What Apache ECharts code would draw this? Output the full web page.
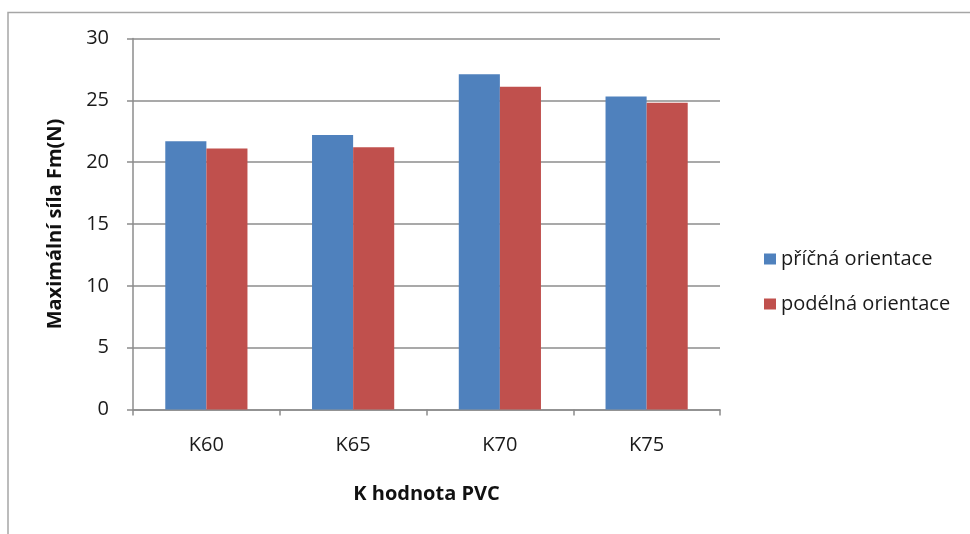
<!DOCTYPE html>
<html>
<head>
<meta charset="utf-8">
<script src="https://cdn.jsdelivr.net/npm/echarts@6/dist/echarts.min.js"></script>
<style>
  html, body { margin: 0; padding: 0; background: #fff; }
  #chart { width: 970px; height: 534px; }
</style>
</head>
<body>
<div id="chart"></div>
<script>
// K-value grades of PVC on the category axis
const categories = ['K60', 'K65', 'K70', 'K75'];
// Maximum force Fm (N) for each sample orientation
const pricnaValues = [21.7, 22.2, 27.1, 25.3];
const podelnaValues = [21.1, 21.2, 26.1, 24.8];
const seriesNames = ['příčná orientace', 'podélná orientace'];
const yTicks = { min: 0, max: 30, interval: 5 };

const FONT = '"Open Sans", Lato, "DejaVu Sans", sans-serif';
const chart = echarts.init(document.getElementById('chart'));

chart.setOption({
  animation: false,
  backgroundColor: '#fff',
  textStyle: { fontFamily: FONT },
  grid: { left: 133, right: 250, top: 38.5, bottom: 124.5 },
  legend: {
    orient: 'vertical',
    left: 759,
    top: 244,
    itemWidth: 12,
    itemHeight: 11,
    itemGap: 25,
    icon: 'rect',
    textStyle: { fontSize: 20, color: '#1a1a1a', fontFamily: FONT },
    data: seriesNames
  },
  xAxis: {
    type: 'category',
    data: categories,
    name: 'K hodnota PVC',
    nameLocation: 'middle',
    nameGap: 75,
    nameTextStyle: { fontSize: 20, fontWeight: 'bold', color: '#111', fontFamily: FONT },
    axisLine: { lineStyle: { color: '#8c8c8c', width: 1.5 } },
    axisTick: { show: true, length: 6, alignWithLabel: false, lineStyle: { color: '#8c8c8c', width: 1.5 } },
    axisLabel: { fontSize: 20, color: '#1a1a1a', margin: 26, fontFamily: FONT }
  },
  yAxis: {
    type: 'value',
    min: yTicks.min,
    max: yTicks.max,
    interval: yTicks.interval,
    name: 'Maximální síla Fm(N)',
    nameLocation: 'middle',
    nameGap: 68,
    nameTextStyle: { fontSize: 20, fontWeight: 'bold', color: '#111', fontFamily: FONT },
    axisLine: { show: true, lineStyle: { color: '#8c8c8c', width: 1.5 } },
    axisTick: { show: true, length: 6, lineStyle: { color: '#8c8c8c', width: 1.5 } },
    axisLabel: { fontSize: 20, color: '#1a1a1a', margin: 24, fontFamily: FONT },
    splitLine: { lineStyle: { color: '#8c8c8c', width: 1.5 } }
  },
  series: [
    {
      name: seriesNames[0],
      type: 'bar',
      data: pricnaValues,
      barGap: '0%',
      barCategoryGap: '44%',
      itemStyle: { color: '#4F81BD' }
    },
    {
      name: seriesNames[1],
      type: 'bar',
      data: podelnaValues,
      barGap: '0%',
      barCategoryGap: '44%',
      itemStyle: { color: '#C0504D' }
    }
  ],
  graphic: [
    {
      type: 'polyline',
      shape: { points: [[8, 540], [8, 12.5], [975, 12.5]] },
      style: { stroke: '#a6a6a6', lineWidth: 1.5, fill: null },
      silent: true
    }
  ]
});
</script>
</body>
</html>
